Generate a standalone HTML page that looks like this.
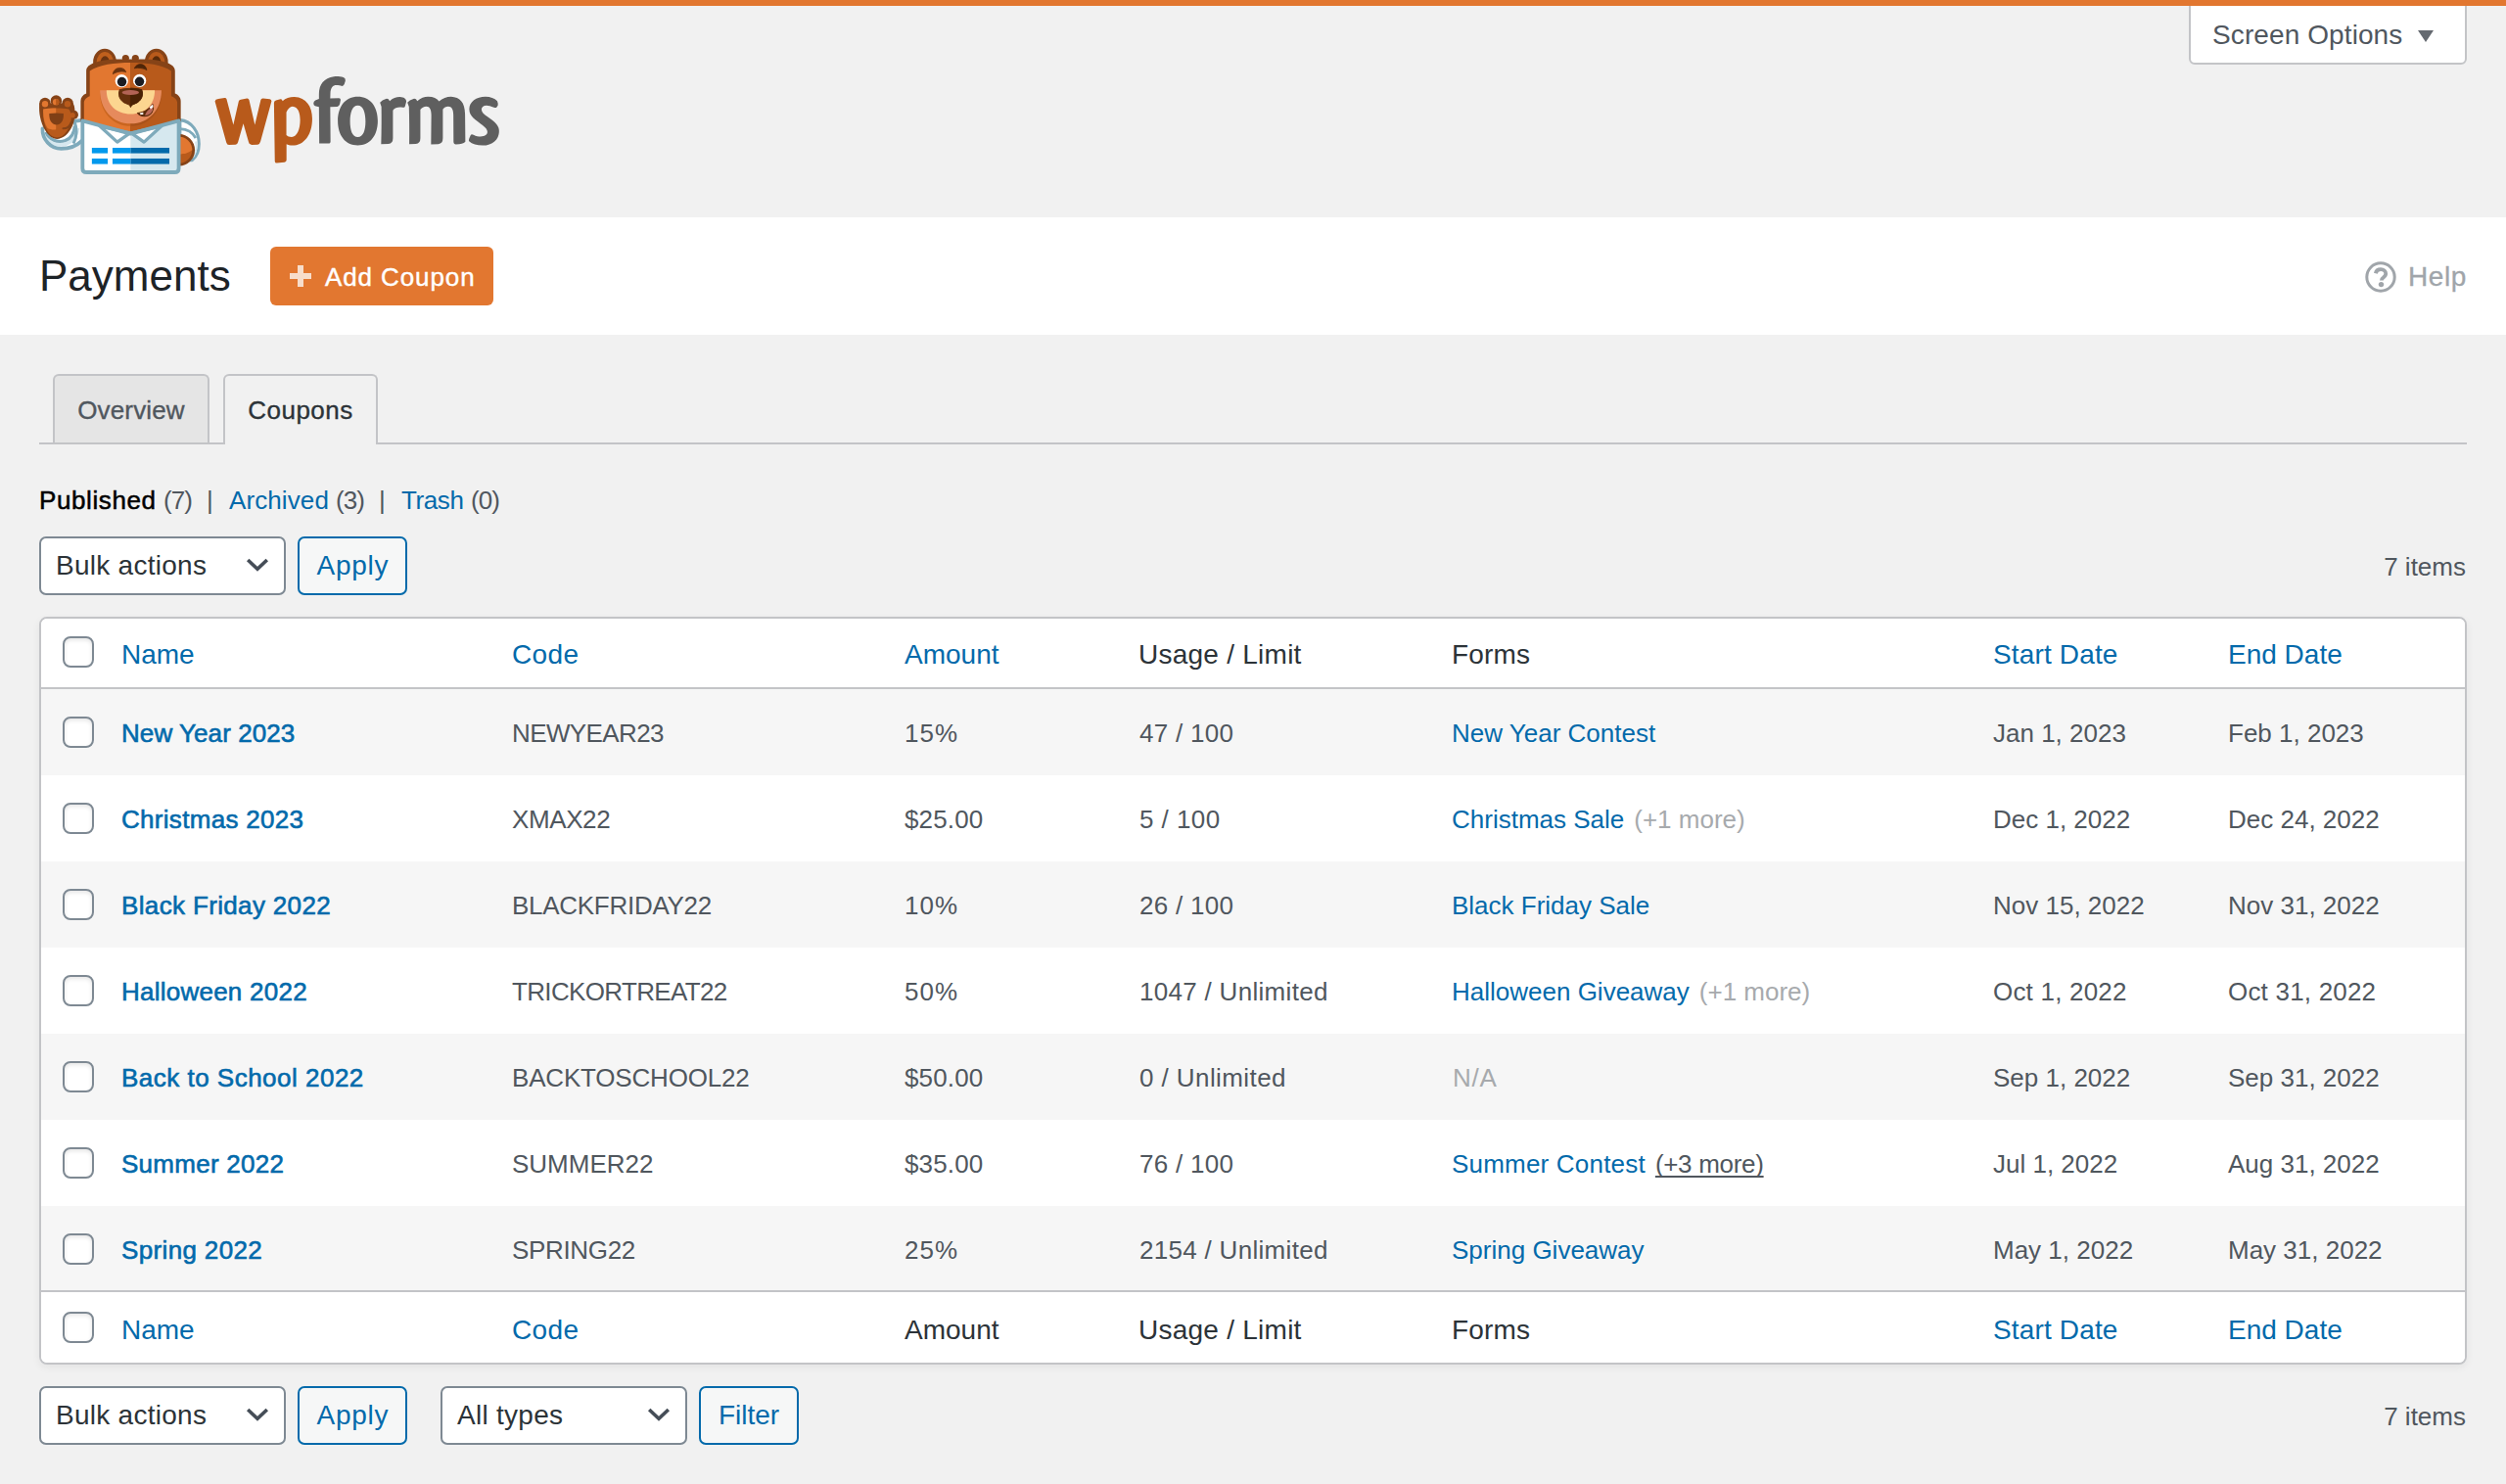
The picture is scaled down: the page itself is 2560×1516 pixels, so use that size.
<!DOCTYPE html>
<html lang="en">
<head>
<meta charset="utf-8">
<title>Payments - Coupons - WPForms</title>
<style>
*{box-sizing:border-box;margin:0;padding:0}
html,body{width:2560px;height:1516px;overflow:hidden}
body{background:#f1f1f1;font-family:"Liberation Sans",sans-serif;color:#50575e;font-size:26px;position:relative}
a{text-decoration:none;color:#036aab}
.abs{position:absolute}
#topbar{left:0;top:0;width:2560px;height:6px;background:#e27730;z-index:5}
#screenopt{left:2236px;top:-2px;width:284px;height:68px;background:#fff;border:2px solid #c3c4c7;border-radius:0 0 6px 6px;color:#50575e;font-size:28px;line-height:32px;padding:20px 0 0 22px;white-space:nowrap;letter-spacing:.1px}
#screenopt .tri{position:absolute;left:232px;top:31px;width:0;height:0;border-left:8px solid transparent;border-right:8px solid transparent;border-top:12px solid #646970}
#whiteband{left:0;top:222px;width:2560px;height:120px;background:#fff}
#h1{left:40px;top:254px;font-size:44px;line-height:56px;color:#1d2327;white-space:nowrap}
#addbtn{left:276px;top:252px;width:228px;height:60px;background:#e27730;border-radius:6px;color:#fff;font-size:26px;line-height:60px;white-space:nowrap;-webkit-text-stroke:.4px #fff;letter-spacing:.9px}
#addbtn .plus{position:absolute;left:20px;top:19px;width:22px;height:22px;opacity:.75}
#addbtn .plus:before{content:"";position:absolute;left:0;top:8px;width:22px;height:6px;background:#fff}
#addbtn .plus:after{content:"";position:absolute;left:8px;top:0;width:6px;height:22px;background:#fff}
#addbtn span.t{position:absolute;left:56px;top:1px}
#help{left:2460px;top:267px;font-size:28px;line-height:32px;color:#a0a5aa;white-space:nowrap;letter-spacing:.6px;-webkit-text-stroke:.3px #a0a5aa}
#helpicon{left:2415px;top:266px;width:34px;height:34px}
#tabline{left:40px;top:452px;width:2480px;height:2px;background:#c3c4c7}
.tab{top:382px;height:72px;border:2px solid #c3c4c7;border-bottom:none;border-radius:6px 6px 0 0;font-size:26px;line-height:36px;padding-top:17px;text-align:center;white-space:nowrap;-webkit-text-stroke:.35px currentColor}
#tab1{left:54px;width:160px;background:#e5e5e5;color:#50575e;height:70px;letter-spacing:.15px}
#tab2{left:228px;width:158px;background:#f1f1f1;color:#2c3338;letter-spacing:.5px}
#subsub{left:40px;top:495px;font-size:26px;line-height:32px;white-space:nowrap;color:#50575e}
#subsub .sb{color:#000;-webkit-text-stroke:.5px #000;letter-spacing:.6px}
#subsub .pn{letter-spacing:-.9px}
.sel{height:60px;border:2px solid #7e8993;border-radius:7px;background:#fff;color:#2c3338;font-size:28px;line-height:56px;padding-left:15px;white-space:nowrap;letter-spacing:.27px}
.sel svg{position:absolute;right:14px;top:19px;width:26px;height:15px}
.btn{height:60px;border:2px solid #036aab;border-radius:7px;background:#f6f7f7;color:#036aab;font-size:28px;line-height:56px;text-align:center;white-space:nowrap}
.items{font-size:26px;line-height:32px;color:#50575e;white-space:nowrap;text-align:right;width:200px;left:2319px}
#table{left:40px;top:630px;width:2480px;height:764px;border:2px solid #c3c4c7;border-radius:8px;background:#fff;box-shadow:0 3px 8px rgba(0,0,0,.06);overflow:hidden}
.row{position:absolute;left:0;width:2476px;height:88px;font-size:26px;line-height:90px;color:#50575e;white-space:nowrap}
.row.alt{background:#f6f6f6}
.hrow{position:absolute;left:0;width:2476px;height:70px;font-size:28px;line-height:74px;color:#2c3338;white-space:nowrap;background:#fff}
.row span,.hrow span{position:absolute;top:0}
.cb{position:absolute;left:22px;width:32px;height:32px;border:2px solid #7e8993;border-radius:8px;background:#fff;box-shadow:inset 0 2px 4px rgba(0,0,0,.1)}
.row .cb{top:28px}
.hrow .cb{top:18px}
.c1{left:82px}.c2{left:481px}.c3{left:882px}.c4{left:1122px}.c5{left:1441px}.c6{left:1994px}.c7{left:2234px}
.row .c1{-webkit-text-stroke:.6px #036aab;letter-spacing:.45px}
.more{color:#a7aaad;margin-left:10px;position:static !important}
.more.hov{color:#50575e;text-decoration:underline;text-decoration-skip-ink:none;text-underline-offset:3px;text-decoration-thickness:2px;letter-spacing:-.3px}
.na{color:#a7aaad}
.row .c4{letter-spacing:.3px}
.row .c3{letter-spacing:.15px}
.row .c3.pc{letter-spacing:1px}
</style>
</head>
<body>
<div id="topbar" class="abs"></div>
<div id="screenopt" class="abs">Screen Options<i class="tri"></i></div>

<!--LOGO--><svg class="abs" style="left:0;top:20px" width="320" height="180" viewBox="0 0 2506 1410">
<defs>
<clipPath id="cpL"><rect x="0" y="0" width="1045" height="1410"/></clipPath>
<clipPath id="cpR"><rect x="1045" y="0" width="1500" height="1410"/></clipPath>
<clipPath id="cpArm"><rect x="1440" y="700" width="400" height="600"/></clipPath>
<clipPath id="cpPL"><rect x="0" y="0" width="448" height="1410"/></clipPath>
</defs>
<!-- right arm behind body -->
<g clip-path="url(#cpArm)">
<path d="M1440,804 C1535,812 1592,900 1592,995 C1592,1055 1572,1098 1538,1125 L1440,1125 Z" fill="#fff" stroke="#7eaabb" stroke-width="24" stroke-linejoin="round"/>
<path d="M1440,874 C1495,876 1540,900 1566,948" fill="none" stroke="#7eaabb" stroke-width="22"/>
<path d="M1566,975 C1576,1020 1568,1066 1545,1100" fill="none" stroke="#d6e8ef" stroke-width="14"/>
<circle cx="1431" cy="1044" r="128" fill="#864317"/>
<circle cx="1431" cy="1044" r="106" fill="#b85a1b"/>
<path d="M1325,1044 A106,106 0 0 1 1537,1044 C1500,1075 1440,1085 1325,1080 Z" fill="#e27730"/>
</g>
<!-- left sleeve + cuff -->
<path d="M338,872 C335,960 400,1036 490,1036 C560,1036 615,1010 652,975 L652,812 L590,806 L480,900 Z" fill="#fff"/>
<path d="M350,925 C385,992 455,1014 525,996 C582,976 614,930 622,868" fill="none" stroke="#d6e8ef" stroke-width="30"/>
<path d="M340,872 C337,958 402,1033 490,1033 C560,1033 615,1008 652,972" fill="none" stroke="#7eaabb" stroke-width="29" stroke-linecap="round"/>
<path d="M366,900 C395,965 460,988 522,968 C568,950 594,905 598,850" fill="none" stroke="#7eaabb" stroke-width="25"/>
<path d="M590,814 L652,806" fill="none" stroke="#7eaabb" stroke-width="28" stroke-linecap="round"/>
<path d="M594,812 C616,870 614,940 588,992" fill="none" stroke="#7eaabb" stroke-width="24"/>
<!-- paw -->
<g fill="#864317">
<circle cx="360" cy="670" r="45"/><circle cx="449" cy="650" r="45"/><circle cx="541" cy="670" r="45"/><circle cx="590" cy="762" r="36"/>
<path d="M315,670 L585,670 C600,700 600,730 596,760 C600,800 585,850 560,885 C535,925 500,952 456,955 C420,955 385,930 357,880 C325,820 308,750 315,670 Z"/>
</g>
<path d="M346,716 C400,706 500,706 550,716 C575,745 575,800 560,840 C545,880 525,915 495,935 C465,950 430,945 405,925 C360,880 340,800 346,716 Z" fill="#b85a1b"/>
<g clip-path="url(#cpPL)"><path d="M346,716 C400,706 500,706 550,716 L550,760 L448,880 C430,885 400,880 380,870 C355,830 342,780 346,716 Z" fill="#e27730"/></g>
<circle cx="580" cy="766" r="21" fill="#b85a1b"/>
<circle cx="360" cy="676" r="25" fill="#e27730"/><circle cx="447" cy="659" r="25" fill="#e27730"/><path d="M447,634 a25,25 0 0 1 0,50 Z" fill="#b85a1b"/><circle cx="540" cy="676" r="25" fill="#b85a1b"/>
<path d="M394,752 C430,746 475,746 508,752 C512,810 485,842 452,842 C419,842 390,810 394,752 Z" fill="#7f3f16"/>
<path d="M505,872 C540,872 560,850 568,825" fill="none" stroke="#864317" stroke-width="16" stroke-linecap="round"/>
<!-- ears -->
<ellipse cx="838" cy="340" rx="93" ry="106" fill="#864317"/><ellipse cx="1251" cy="340" rx="93" ry="106" fill="#864317"/>
<ellipse cx="840" cy="345" rx="68" ry="86" fill="#c0601d"/><ellipse cx="1251" cy="345" rx="68" ry="86" fill="#b85a1b"/>
<ellipse cx="840" cy="350" rx="38" ry="58" fill="#6b3410"/><ellipse cx="1251" cy="350" rx="38" ry="58" fill="#5a2a08"/>
<!-- hair -->
<circle cx="1005" cy="310" r="28" fill="#864317"/><circle cx="1083" cy="310" r="28" fill="#864317"/>
<!-- head outline -->
<path d="M690,412 C690,380 715,362 746,349 C800,328 870,317 933,317 L1158,317 C1220,317 1290,328 1345,349 C1375,362 1400,380 1400,412 L1400,592 C1430,602 1446,628 1446,652 L1446,815 L1045,925 L645,815 L645,652 C645,628 660,602 690,592 Z" fill="#864317"/>
<!-- face -->
<g clip-path="url(#cpL)"><path d="M718,411 C790,362 920,345 1045,345 C1170,345 1300,362 1370,411 L1370,612 C1400,620 1418,645 1418,665 L1418,805 L1045,900 L672,805 L672,665 C672,645 690,620 718,612 Z" fill="#e27730"/></g>
<g clip-path="url(#cpR)"><path d="M718,411 C790,362 920,345 1045,345 C1170,345 1300,362 1370,411 L1370,612 C1400,620 1418,645 1418,665 L1418,805 L1045,900 L672,805 L672,665 C672,645 690,620 718,612 Z" fill="#b85a1b"/></g>
<!-- eyebrows -->
<path d="M903,436 C908,400 935,386 962,387 C988,389 1003,402 1008,421 C985,410 938,414 903,436 Z" fill="#6b3410" stroke="#6b3410" stroke-width="6" stroke-linejoin="round"/>
<path d="M1075,390 C1086,366 1105,357 1125,357 C1153,359 1170,378 1174,404 C1150,388 1105,382 1075,390 Z" fill="#4e2508" stroke="#4e2508" stroke-width="6" stroke-linejoin="round"/>
<!-- muzzle -->
<g clip-path="url(#cpL)"><path d="M800,585 L1292,585 C1292,740 1190,852 1045,852 C900,852 800,740 800,585 Z" fill="#c9651f"/></g><g clip-path="url(#cpR)"><path d="M800,585 L1292,585 C1292,740 1190,852 1045,852 C900,852 800,740 800,585 Z" fill="#a9521a"/></g>
<path d="M800,565 L1292,565 C1292,720 1190,832 1045,832 C900,832 800,720 800,565 Z" fill="#e68a5c"/>
<path d="M852,565 L1238,565 C1238,680 1160,755 1045,755 C930,755 852,680 852,565 Z" fill="#fcd690"/>
<!-- eyes -->
<circle cx="973" cy="491" r="52" fill="#fff"/><circle cx="1117" cy="489" r="52" fill="#fff"/>
<circle cx="975" cy="498" r="37" fill="#1b1c21"/><circle cx="1116" cy="496" r="37" fill="#1b1c21"/>
<!-- nose -->
<path d="M957,562 C1000,546 1090,546 1133,562 C1148,600 1135,640 1100,662 C1085,672 1062,678 1052,686 L1045,699 L1038,686 C1028,678 1005,672 990,662 C955,640 942,600 957,562 Z" fill="#65300d" stroke="#65300d" stroke-width="8" stroke-linejoin="round"/>
<path d="M1045,550 C1080,550 1110,554 1133,562 C1148,600 1135,640 1100,662 C1085,672 1062,678 1052,686 L1045,699 Z" fill="#4a2204" stroke="#4a2204" stroke-width="6" stroke-linejoin="round"/>
<ellipse cx="1044" cy="584" rx="68" ry="20" fill="#b26355"/>
<!-- mouth -->
<path d="M1100,748 C1150,745 1195,715 1222,678 C1235,720 1215,765 1170,772 C1140,776 1112,765 1100,748 Z" fill="#5a2b0b" stroke="#5a2b0b" stroke-width="8" stroke-linejoin="round"/>
<path d="M1160,768 C1165,740 1190,718 1222,700 C1228,735 1205,765 1160,768 Z" fill="#b8685a"/>
<path d="M1196,700 L1222,680 L1226,700 L1205,716 Z" fill="#fff"/><path d="M1118,748 L1146,742 L1146,760 L1124,760 Z" fill="#fff"/>
<!-- shirt -->
<g clip-path="url(#cpL)"><path d="M660,810 L1045,914 L1430,810 L1430,1190 Q1430,1222 1398,1222 L692,1222 Q660,1222 660,1190 Z" fill="#fff"/></g>
<g clip-path="url(#cpR)"><path d="M660,810 L1045,914 L1430,810 L1430,1190 Q1430,1222 1398,1222 L692,1222 Q660,1222 660,1190 Z" fill="#d6e8ef"/></g>
<!-- collars -->
<path d="M798,852 L938,980 L1040,908 Z" fill="#fff" stroke="#7eaabb" stroke-width="26" stroke-linejoin="round"/>
<path d="M1292,852 L1152,980 L1050,908 Z" fill="#fff" stroke="#7eaabb" stroke-width="26" stroke-linejoin="round"/>
<path d="M660,810 L1045,914 L1430,810 L1430,1190 Q1430,1222 1398,1222 L692,1222 Q660,1222 660,1190 Z" fill="none" stroke="#7eaabb" stroke-width="30" stroke-linejoin="round"/>
<!-- bars -->
<rect x="735" y="1026" width="127" height="44" fill="#0399ed"/><rect x="900" y="1026" width="145" height="44" fill="#0399ed"/><rect x="1045" y="1026" width="310" height="44" fill="#036aab"/>
<rect x="735" y="1112" width="127" height="44" fill="#0399ed"/><rect x="900" y="1112" width="145" height="44" fill="#0399ed"/><rect x="1045" y="1112" width="310" height="44" fill="#036aab"/>
</svg>
<svg class="abs" style="left:200px;top:40px" width="360" height="160" viewBox="0 0 2506 1114">
<g fill="#b85a1b">
<path d="M136,442 Q138,428 160,425 L204,417 Q216,416 219,426 L267,610 L305,442 Q308,432 320,430 L364,421 Q376,420 379,432 L420,610 L462,432 Q465,420 478,421 L526,427 Q541,430 538,444 L460,728 Q455,748 440,750 L398,752 Q382,752 376,732 L338,600 L300,732 Q296,748 282,750 L236,752 Q222,752 217,734 Z"/>
<path fill-rule="evenodd" d="M556,454 Q556,440 570,436 L602,427 Q614,425 617,440 C640,420 670,410 702,411 C785,414 828,480 828,565 C828,680 770,756 686,756 C670,756 655,752 645,746 L645,860 Q644,874 630,876 L576,881 Q562,881 562,868 Z M644,520 C655,495 670,478 688,478 C728,480 742,525 742,574 C742,640 720,694 682,696 C665,696 652,690 644,682 Z"/>
</g>
<g fill="#5f5f5f">
<path d="M878,742 L950,741 Q958,740 958,730 L956,482 L1006,480 Q1020,476 1024,462 L1030,432 Q1030,420 1018,420 L956,421 L957,388 C958,345 975,328 1000,328 C1015,328 1028,332 1040,334 Q1052,332 1056,320 L1064,296 Q1066,278 1050,272 C1025,264 1000,263 982,266 C912,276 876,320 876,392 L876,424 L850,436 Q838,442 837,456 Q837,470 848,476 L876,482 Z"/>
<path fill-rule="evenodd" d="M1152,409 C1240,409 1294,478 1294,582 C1294,686 1240,756 1152,756 C1064,756 1010,686 1010,582 C1010,478 1064,409 1152,409 Z M1152,471 C1113,471 1097,522 1097,584 C1097,646 1113,696 1152,696 C1191,696 1207,646 1207,584 C1207,522 1191,471 1152,471 Z"/>
<path d="M1310,450 Q1325,432 1352,424 Q1370,420 1379,440 C1400,420 1430,410 1452,411 C1480,412 1498,425 1497,445 L1488,478 Q1484,488 1470,486 C1440,480 1415,490 1402,506 L1402,705 Q1402,742 1370,745 L1318,746 Q1322,600 1320,480 Z"/>
<path d="M1505,450 Q1520,432 1548,424 Q1566,420 1575,440 C1600,418 1625,409 1652,409 C1690,410 1715,420 1730,442 C1755,420 1785,409 1815,409 C1880,412 1914,450 1915,535 L1917,730 Q1900,748 1850,749 Q1834,749 1833,730 L1832,540 C1832,500 1820,480 1795,479 C1780,479 1765,488 1757,500 L1757,705 Q1757,742 1725,746 L1673,748 L1675,540 C1675,500 1663,480 1640,479 C1622,479 1606,490 1597,502 L1597,705 Q1597,742 1565,745 L1518,746 Q1520,600 1516,480 Z"/>
<path d="M2149,457 Q2152,470 2140,484 Q2134,490 2120,486 C2100,478 2080,472 2068,472 C2045,472 2032,485 2032,500 C2032,520 2050,535 2075,552 C2130,590 2157,615 2157,652 C2157,715 2110,756 2040,756 C2000,756 1965,745 1945,728 Q1938,720 1945,705 L1955,682 Q1960,672 1975,680 C1995,690 2010,692 2025,692 C2055,692 2074,680 2074,660 C2074,640 2060,628 2040,612 C1990,575 1945,550 1945,498 C1945,445 1995,409 2060,409 C2095,409 2125,420 2144,440 Z"/>
</g>
</svg>
<!--/LOGO-->

<div id="whiteband" class="abs"></div>
<div id="h1" class="abs">Payments</div>
<div id="addbtn" class="abs"><i class="plus"></i><span class="t">Add Coupon</span></div>
<svg id="helpicon" class="abs" viewBox="0 0 34 34"><circle cx="17" cy="17" r="14.2" fill="none" stroke="#a0a5aa" stroke-width="3"/><path d="M11.8 13.2c.6-2.6 2.6-4 5.2-4 3 0 5.2 1.8 5.2 4.4 0 2-1.1 3-2.6 4-1.3.8-1.7 1.4-1.7 2.8" fill="none" stroke="#a0a5aa" stroke-width="3.8"/><circle cx="17.5" cy="24.6" r="2.7" fill="#a0a5aa"/></svg>
<div id="help" class="abs">Help</div>

<div id="tab1" class="abs tab">Overview</div>
<div id="tabline" class="abs"></div>
<div id="tab2" class="abs tab">Coupons</div>

<div id="subsub" class="abs"><span class="abs sb" style="left:0">Published</span><span class="abs pn" style="left:127px">(7)</span><span class="abs" style="left:171px">|</span><a class="abs" style="left:194px;letter-spacing:.1px">Archived</a><span class="abs pn" style="left:303px">(3)</span><span class="abs" style="left:347px">|</span><a class="abs" style="left:370px;letter-spacing:-.4px">Trash</a><span class="abs pn" style="left:441px">(0)</span></div>

<div class="abs sel" style="left:40px;top:548px;width:252px">Bulk actions<svg viewBox="0 0 26 15"><path d="M3.2 3l9.8 9.2L22.8 3" fill="none" stroke="#454d57" stroke-width="3.6"/></svg></div>
<div class="abs btn" style="left:304px;top:548px;width:112px;letter-spacing:.7px;text-indent:.7px">Apply</div>
<div class="abs items" style="top:563px">7 items</div>

<div id="table" class="abs">
<div class="hrow" style="top:0;border-bottom:0"><i class="cb"></i><span class="c1"><a>Name</a></span><span class="c2" style="letter-spacing:.4px"><a>Code</a></span><span class="c3"><a>Amount</a></span><span class="c4" style="letter-spacing:.25px;margin-left:-1px">Usage / Limit</span><span class="c5" style="letter-spacing:.2px">Forms</span><span class="c6" style="letter-spacing:.15px"><a>Start Date</a></span><span class="c7"><a>End Date</a></span></div>
<div class="abs" style="left:0;top:70px;width:2476px;height:2px;background:#c3c4c7"></div>
<div class="row alt" style="top:72px"><i class="cb"></i><span class="c1" style="letter-spacing:0.07px"><a>New Year 2023</a></span><span class="c2" style="letter-spacing:-0.6px">NEWYEAR23</span><span class="c3 pc">15%</span><span class="c4">47 / 100</span><span class="c5"><a>New Year Contest</a></span><span class="c6">Jan 1, 2023</span><span class="c7">Feb 1, 2023</span></div>
<div class="row" style="top:160px"><i class="cb"></i><span class="c1" style="letter-spacing:0.30px"><a>Christmas 2023</a></span><span class="c2" style="letter-spacing:-0.4px">XMAX22</span><span class="c3">$25.00</span><span class="c4" style="letter-spacing:.45px">5 / 100</span><span class="c5"><a>Christmas Sale</a><span class="more">(+1 more)</span></span><span class="c6">Dec 1, 2022</span><span class="c7">Dec 24, 2022</span></div>
<div class="row alt" style="top:248px"><i class="cb"></i><span class="c1" style="letter-spacing:0.35px"><a>Black Friday 2022</a></span><span class="c2" style="letter-spacing:-0.28px">BLACKFRIDAY22</span><span class="c3 pc">10%</span><span class="c4">26 / 100</span><span class="c5"><a>Black Friday Sale</a></span><span class="c6">Nov 15, 2022</span><span class="c7">Nov 31, 2022</span></div>
<div class="row" style="top:336px"><i class="cb"></i><span class="c1" style="letter-spacing:0.24px"><a>Halloween 2022</a></span><span class="c2" style="letter-spacing:-0.66px">TRICKORTREAT22</span><span class="c3 pc">50%</span><span class="c4">1047 / Unlimited</span><span class="c5"><a>Halloween Giveaway</a><span class="more">(+1 more)</span></span><span class="c6" style="letter-spacing:.2px">Oct 1, 2022</span><span class="c7" style="letter-spacing:.2px">Oct 31, 2022</span></div>
<div class="row alt" style="top:424px"><i class="cb"></i><span class="c1" style="letter-spacing:0.49px"><a>Back to School 2022</a></span><span class="c2" style="letter-spacing:-0.18px">BACKTOSCHOOL22</span><span class="c3">$50.00</span><span class="c4" style="letter-spacing:.42px">0 / Unlimited</span><span class="c5 na" style="letter-spacing:.8px;margin-left:1px">N/A</span><span class="c6">Sep 1, 2022</span><span class="c7">Sep 31, 2022</span></div>
<div class="row" style="top:512px"><i class="cb"></i><span class="c1" style="letter-spacing:0.26px"><a>Summer 2022</a></span><span class="c2">SUMMER22</span><span class="c3">$35.00</span><span class="c4">76 / 100</span><span class="c5"><a style="letter-spacing:.2px">Summer Contest</a><span class="more hov">(+3 more)</span></span><span class="c6">Jul 1, 2022</span><span class="c7">Aug 31, 2022</span></div>
<div class="row alt" style="top:600px"><i class="cb"></i><span class="c1" style="letter-spacing:0.35px"><a>Spring 2022</a></span><span class="c2" style="letter-spacing:-0.34px">SPRING22</span><span class="c3 pc">25%</span><span class="c4">2154 / Unlimited</span><span class="c5"><a>Spring Giveaway</a></span><span class="c6">May 1, 2022</span><span class="c7">May 31, 2022</span></div>
<div class="abs" style="left:0;top:686px;width:2476px;height:2px;background:#c3c4c7;z-index:2"></div>
<div class="hrow" style="top:688px;height:72px;line-height:78px"><i class="cb" style="top:20px"></i><span class="c1"><a>Name</a></span><span class="c2" style="letter-spacing:.4px"><a>Code</a></span><span class="c3">Amount</span><span class="c4" style="letter-spacing:.25px;margin-left:-1px">Usage / Limit</span><span class="c5" style="letter-spacing:.2px">Forms</span><span class="c6" style="letter-spacing:.15px"><a>Start Date</a></span><span class="c7"><a>End Date</a></span></div>
</div>

<div class="abs sel" style="left:40px;top:1416px;width:252px">Bulk actions<svg viewBox="0 0 26 15"><path d="M3.2 3l9.8 9.2L22.8 3" fill="none" stroke="#454d57" stroke-width="3.6"/></svg></div>
<div class="abs btn" style="left:304px;top:1416px;width:112px;letter-spacing:.7px;text-indent:.7px">Apply</div>
<div class="abs sel" style="left:450px;top:1416px;width:252px">All types<svg viewBox="0 0 26 15"><path d="M3.2 3l9.8 9.2L22.8 3" fill="none" stroke="#454d57" stroke-width="3.6"/></svg></div>
<div class="abs btn" style="left:714px;top:1416px;width:102px">Filter</div>
<div class="abs items" style="top:1431px">7 items</div>
</body>
</html>
